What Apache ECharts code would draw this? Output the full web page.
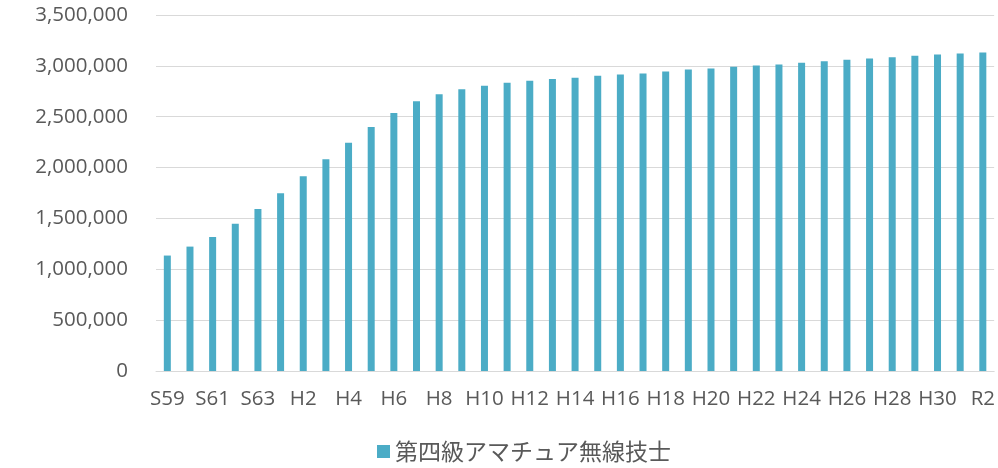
<!DOCTYPE html>
<html>
<head>
<meta charset="utf-8">
<script src="https://cdn.jsdelivr.net/npm/echarts@6/dist/echarts.min.js"></script>
<style>html,body{margin:0;padding:0;background:#fff}#c{width:998px;height:468px}</style>
</head>
<body>
<div id="c"></div>
<script>
const categories = ["S59","S60","S61","S62","S63","H1","H2","H3","H4","H5","H6","H7","H8","H9","H10","H11","H12","H13","H14","H15","H16","H17","H18","H19","H20","H21","H22","H23","H24","H25","H26","H27","H28","H29","H30","R1","R2"];
const values = [1135000,1223000,1318000,1448000,1592000,1748000,1915000,2081000,2244000,2400000,2537000,2652000,2720000,2769000,2805000,2835000,2854000,2870000,2884000,2903000,2916000,2926000,2945000,2965000,2975000,2991000,3004000,3014000,3030000,3046000,3060000,3072000,3085000,3099000,3112000,3121000,3131000];
const seriesName = "第四級アマチュア無線技士";
const yTicks = {min: 0, max: 3500000, interval: 500000};

const chart = echarts.init(document.getElementById('c'), null, {renderer: 'canvas'});
chart.setOption({
  animation: false,
  backgroundColor: '#ffffff',
  textStyle: {fontFamily: 'Open Sans'},
  grid: {left: 156, right: 3, top: 15, bottom: 97, containLabel: false},
  legend: {
    show: true,
    left: 377,
    top: 440,
    padding: 0,
    icon: 'rect',
    itemWidth: 13,
    itemHeight: 13,
    itemGap: 10,
    textStyle: {color: '#595959', fontSize: 23, fontFamily: '"Noto Sans CJK JP"'},
    data: [seriesName]
  },
  xAxis: {
    type: 'category',
    data: categories,
    axisLine: {show: true, lineStyle: {color: '#d9d9d9', width: 1}},
    axisTick: {show: false},
    axisLabel: {interval: 1, color: '#595959', fontSize: 20.5, fontFamily: 'Open Sans', margin: 18}
  },
  yAxis: {
    type: 'value',
    min: yTicks.min,
    max: yTicks.max,
    interval: yTicks.interval,
    axisLine: {show: false},
    axisTick: {show: false},
    splitLine: {lineStyle: {color: '#d9d9d9', width: 1}},
    axisLabel: {
      color: '#595959', fontSize: 20.5, fontFamily: 'Open Sans', margin: 28,
      formatter: v => v.toLocaleString('en-US')
    }
  },
  series: [{
    name: seriesName,
    type: 'bar',
    data: values,
    barWidth: 7,
    itemStyle: {color: '#4bacc6'}
  }]
});
</script>
</body>
</html>
